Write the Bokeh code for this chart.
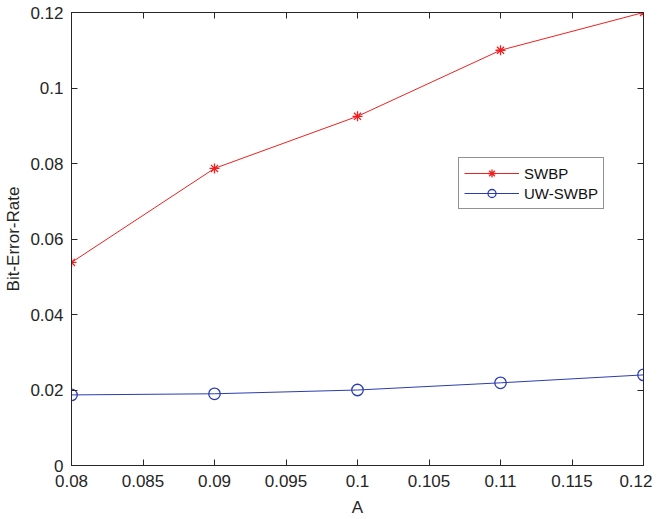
from bokeh.plotting import figure
from bokeh.models import LinearAxis, FixedTicker, Legend, LegendItem, Range1d
from bokeh.embed import file_html
from bokeh.resources import INLINE

A = [0.08, 0.09, 0.10, 0.11, 0.12]
swbp = [0.0538, 0.0787, 0.0925, 0.1100, 0.1200]
uw_swbp = [0.0187, 0.0190, 0.0200, 0.0219, 0.0240]

x_ticks = [0.08, 0.085, 0.09, 0.095, 0.1, 0.105, 0.11, 0.115, 0.12]
x_tick_labels = ["0.08", "0.085", "0.09", "0.095", "0.1", "0.105", "0.11", "0.115", "0.12"]
y_ticks = [0, 0.02, 0.04, 0.06, 0.08, 0.1, 0.12]
y_tick_labels = ["0", "0.02", "0.04", "0.06", "0.08", "0.1", "0.12"]

FONT = "Liberation Sans"
AX = "#262626"

p = figure(width=652, height=519, output_backend="svg", toolbar_location=None,
           x_range=Range1d(0.08, 0.12), y_range=Range1d(0, 0.12),
           min_border_left=71, min_border_right=9, min_border_top=12, min_border_bottom=54,
           x_axis_label="A", y_axis_label="Bit-Error-Rate")
p.xgrid.visible = False
p.ygrid.visible = False
p.outline_line_color = AX
p.outline_line_width = 1
p.outline_line_alpha = 1

def style(ax, ticks, labels, show_labels=True):
    ax.ticker = FixedTicker(ticks=ticks)
    if show_labels:
        ax.major_label_overrides = {t: l for t, l in zip(ticks, labels)}
    else:
        ax.major_label_overrides = {t: "" for t in ticks}
    ax.minor_tick_line_color = None
    ax.major_tick_in = 6
    ax.major_tick_out = 0
    ax.major_tick_line_color = AX
    ax.axis_line_color = AX
    ax.major_label_text_font = FONT
    ax.major_label_text_color = "#262626"
    ax.major_label_text_font_size = "17px" if show_labels else "1px"
    ax.axis_label_text_font = FONT
    ax.axis_label_text_font_style = "normal"
    ax.axis_label_text_font_size = "17px"
    ax.axis_label_text_color = "#262626"

style(p.xaxis[0], x_ticks, x_tick_labels)
style(p.yaxis[0], y_ticks, y_tick_labels)
p.xaxis[0].major_label_standoff = 9
p.xaxis[0].axis_label_standoff = 8
p.yaxis[0].major_label_standoff = 8
p.yaxis[0].axis_label_standoff = 4

top = LinearAxis()
style(top, x_ticks, x_tick_labels, show_labels=False)
top.major_label_standoff = 0
right = LinearAxis()
style(right, y_ticks, y_tick_labels, show_labels=False)
right.major_label_standoff = 0
p.add_layout(top, "above")
p.add_layout(right, "right")

RED = "#f02020"
BLUE = "#2b3db0"
l1 = p.line(A, swbp, line_color=RED, line_width=1)
m1 = p.scatter(A, swbp, marker="asterisk", size=10, line_color=RED, line_width=1.3)
l2 = p.line(A, uw_swbp, line_color=BLUE, line_width=1)
m2 = p.scatter(A, uw_swbp, marker="circle", size=11.5, line_color=BLUE, fill_color=None, line_width=1.3)

legend = Legend(items=[LegendItem(label="SWBP", renderers=[l1, m1]),
                       LegendItem(label="UW-SWBP", renderers=[l2, m2])],
                location=(387, 256))
legend.label_text_font = FONT
legend.label_text_font_size = "15px"
legend.label_text_color = "#111111"
legend.glyph_width = 55
legend.glyph_height = 20
legend.label_standoff = 5
legend.spacing = 0
legend.padding = 5
legend.margin = 0
legend.border_line_color = "#262626"
legend.border_line_width = 1
legend.background_fill_alpha = 1
legend.label_height = 20
p.add_layout(legend, "center")

open("out.html", "w").write(file_html(p, INLINE))
